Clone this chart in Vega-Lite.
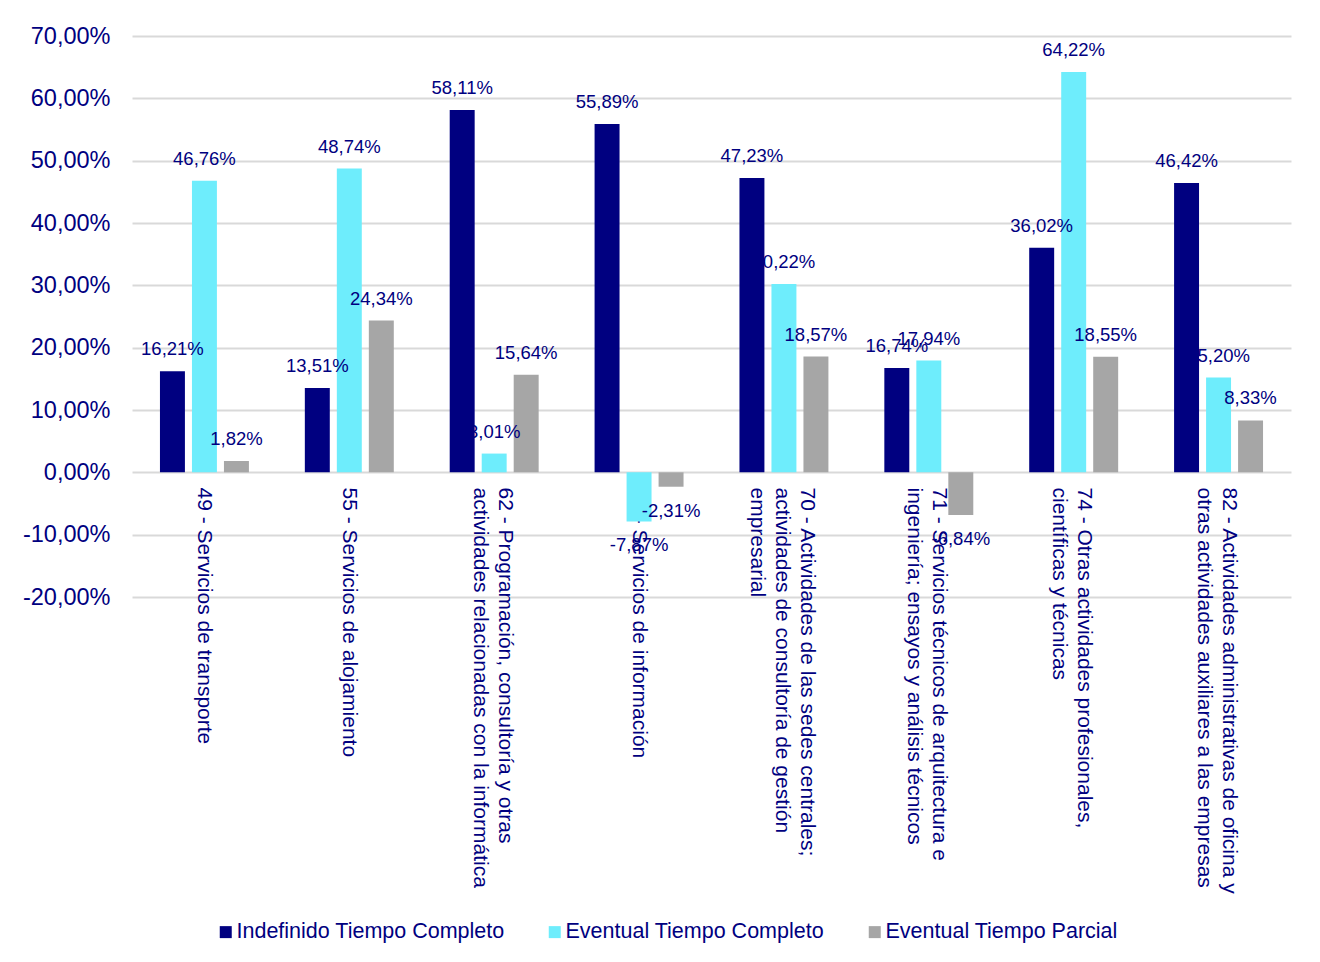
{
  "$schema": "https://vega.github.io/schema/vega-lite/v6.json",
  "width": 1159,
  "height": 561,
  "autosize": {"type": "none"},
  "padding": {"left": 132, "top": 36, "right": 29, "bottom": 365},
  "background": "white",
  "data": {
    "values": [
      {"cat": "49 - Servicios de transporte", "serie": "Indefinido Tiempo Completo", "value": 0.1621},
      {"cat": "49 - Servicios de transporte", "serie": "Eventual Tiempo Completo", "value": 0.4676},
      {"cat": "49 - Servicios de transporte", "serie": "Eventual Tiempo Parcial", "value": 0.0182},
      {"cat": "55 - Servicios de alojamiento", "serie": "Indefinido Tiempo Completo", "value": 0.1351},
      {"cat": "55 - Servicios de alojamiento", "serie": "Eventual Tiempo Completo", "value": 0.4874},
      {"cat": "55 - Servicios de alojamiento", "serie": "Eventual Tiempo Parcial", "value": 0.2434},
      {"cat": "62 - Programación, consultoría y otras|actividades relacionadas con la informática", "serie": "Indefinido Tiempo Completo", "value": 0.5811},
      {"cat": "62 - Programación, consultoría y otras|actividades relacionadas con la informática", "serie": "Eventual Tiempo Completo", "value": 0.0301},
      {"cat": "62 - Programación, consultoría y otras|actividades relacionadas con la informática", "serie": "Eventual Tiempo Parcial", "value": 0.1564},
      {"cat": "63 - Servicios de información", "serie": "Indefinido Tiempo Completo", "value": 0.5589},
      {"cat": "63 - Servicios de información", "serie": "Eventual Tiempo Completo", "value": -0.0787},
      {"cat": "63 - Servicios de información", "serie": "Eventual Tiempo Parcial", "value": -0.0231},
      {"cat": "70 - Actividades de las sedes centrales;|actividades de consultoría de gestión|empresarial", "serie": "Indefinido Tiempo Completo", "value": 0.4723},
      {"cat": "70 - Actividades de las sedes centrales;|actividades de consultoría de gestión|empresarial", "serie": "Eventual Tiempo Completo", "value": 0.3022},
      {"cat": "70 - Actividades de las sedes centrales;|actividades de consultoría de gestión|empresarial", "serie": "Eventual Tiempo Parcial", "value": 0.1857},
      {"cat": "71 - Servicios técnicos de arquitectura e|ingeniería; ensayos y análisis técnicos", "serie": "Indefinido Tiempo Completo", "value": 0.1674},
      {"cat": "71 - Servicios técnicos de arquitectura e|ingeniería; ensayos y análisis técnicos", "serie": "Eventual Tiempo Completo", "value": 0.1794},
      {"cat": "71 - Servicios técnicos de arquitectura e|ingeniería; ensayos y análisis técnicos", "serie": "Eventual Tiempo Parcial", "value": -0.0684},
      {"cat": "74 - Otras actividades profesionales,|científicas y técnicas", "serie": "Indefinido Tiempo Completo", "value": 0.3602},
      {"cat": "74 - Otras actividades profesionales,|científicas y técnicas", "serie": "Eventual Tiempo Completo", "value": 0.6422},
      {"cat": "74 - Otras actividades profesionales,|científicas y técnicas", "serie": "Eventual Tiempo Parcial", "value": 0.1855},
      {"cat": "82 - Actividades administrativas de oficina y|otras actividades auxiliares a las empresas", "serie": "Indefinido Tiempo Completo", "value": 0.4642},
      {"cat": "82 - Actividades administrativas de oficina y|otras actividades auxiliares a las empresas", "serie": "Eventual Tiempo Completo", "value": 0.152},
      {"cat": "82 - Actividades administrativas de oficina y|otras actividades auxiliares a las empresas", "serie": "Eventual Tiempo Parcial", "value": 0.0833}
    ]
  },
  "encoding": {
    "x": {
      "field": "cat",
      "type": "nominal",
      "sort": null,
      "scale": {"paddingInner": 0.386, "paddingOuter": 0.193},
      "axis": {
        "title": null,
        "orient": "bottom",
        "offset": -125,
        "domain": false,
        "ticks": false,
        "tickSize": 0,
        "grid": false,
        "labelAngle": 90,
        "labelAlign": "left",
        "labelBaseline": "middle",
        "labelPadding": 15,
        "labelFontSize": 21,
        "labelLineHeight": 25,
        "labelLimit": 700,
        "labelOverlap": false,
        "labelBound": false,
        "labelColor": "#000080",
        "labelFont": "Liberation Sans",
        "labelOffset": {
          "condition": [
            {"test": "indexof(datum.value, 'empresarial') >= 0", "value": 23},
            {"test": "indexof(datum.value, '|') >= 0", "value": 10.5}
          ],
          "value": 0
        },
        "labelExpr": "split(datum.label, '|')"
      }
    },
    "xOffset": {
      "field": "serie",
      "type": "nominal",
      "sort": ["Indefinido Tiempo Completo", "Eventual Tiempo Completo", "Eventual Tiempo Parcial"],
      "scale": {"paddingInner": 0.22, "paddingOuter": 0}
    },
    "y": {
      "field": "value",
      "type": "quantitative",
      "scale": {"domain": [-0.2, 0.7], "nice": false, "zero": false},
      "axis": {
        "title": null,
        "values": [-0.2, -0.1, 0, 0.1, 0.2, 0.3, 0.4, 0.5, 0.6, 0.7],
        "format": ".2%",
        "domain": false,
        "ticks": false,
        "labelPadding": 22,
        "labelFontSize": 23.5,
        "labelColor": "#000080",
        "labelFont": "Liberation Sans",
        "gridColor": "#D9D9D9",
        "gridWidth": 2
      }
    }
  },
  "layer": [
    {
      "mark": {"type": "bar"},
      "encoding": {
        "color": {
          "field": "serie",
          "type": "nominal",
          "scale": {
            "domain": ["Indefinido Tiempo Completo", "Eventual Tiempo Completo", "Eventual Tiempo Parcial"],
            "range": ["#000080", "#6EEDFC", "#A6A6A6"]
          },
          "legend": {
            "title": null,
            "orient": "none",
            "direction": "horizontal",
            "legendX": 83,
            "legendY": 885,
            "padding": 0,
            "symbolType": "square",
            "symbolSize": 144,
            "symbolStrokeWidth": 0,
            "labelFontSize": 21.5,
            "labelColor": "#000080",
            "labelFont": "Liberation Sans",
            "labelOffset": 0,
            "columnPadding": 39,
            "labelLimit": 400
          }
        }
      }
    },
    {
      "transform": [{"filter": "datum.value >= 0"}],
      "mark": {"type": "text", "dy": -16, "baseline": "alphabetic", "fontSize": 18.5, "font": "Liberation Sans", "color": "#000080"},
      "encoding": {"text": {"field": "value", "type": "quantitative", "format": ".2%"}}
    },
    {
      "transform": [{"filter": "datum.value < 0"}],
      "mark": {"type": "text", "dy": 30, "baseline": "alphabetic", "fontSize": 18.5, "font": "Liberation Sans", "color": "#000080"},
      "encoding": {"text": {"field": "value", "type": "quantitative", "format": ".2%"}}
    }
  ],
  "config": {
    "locale": {
      "number": {"decimal": ",", "thousands": ".", "grouping": [3], "currency": ["", " €"], "percent": "%", "minus": "-"}
    },
    "view": {"stroke": null}
  }
}
